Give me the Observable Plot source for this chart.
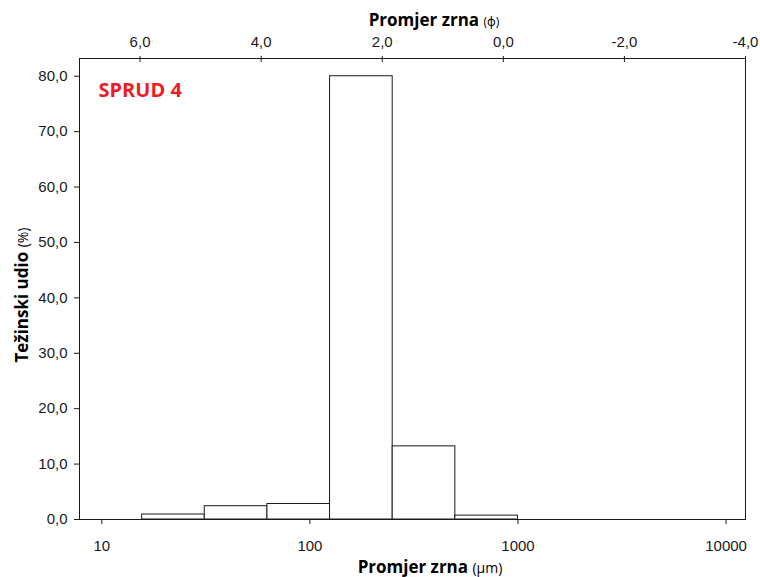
<!DOCTYPE html>
<html><head><meta charset="utf-8">
<script src="https://cdn.jsdelivr.net/npm/d3@7"></script>
<script src="https://cdn.jsdelivr.net/npm/@observablehq/plot@0.6"></script>
<style>
body{margin:0;background:#fff;}
#wrap{position:relative;width:760px;height:577px;}
#wrap svg{position:absolute;left:0;top:0;}
</style></head><body><div id="wrap"></div>
<script>
// ---- data ----
const binStartUm = [15.625, 31.25, 62.5, 125, 250, 500];
const binEndUm   = [31.25, 62.5, 125, 250, 500, 1000];
const weightPct  = [0.9, 2.4, 2.8, 80.0, 13.2, 0.7];
const umTicks  = [10, 100, 1000, 10000];
const phiTicks = [6, 4, 2, 0, -2, -4];
const pctTicks = [0, 10, 20, 30, 40, 50, 60, 70, 80];
const sampleLabel = "SPRUD 4";
const xTitle = "Promjer zrna";
const xUnitBottom = "(µm)";
const xUnitTop = "(ϕ)";
const yTitle = "Težinski udio";
const yUnit = "(%)";

const bins = binStartUm.map((s, i) => ({x1: s, x2: binEndUm[i], y: weightPct[i]}));
const comma1 = d => d.toFixed(1).replace(".", ",");

const W = 760, H = 577, mL = 79, mR = 15, mT = 58, mB = 58;
const tickFont = "'Liberation Sans', Arial, sans-serif";
const titleFont = "'Open Sans', 'Noto Sans', sans-serif";
const ink = "#1a1a1a";

const main = Plot.plot({
  width: W, height: H, marginLeft: mL, marginRight: mR, marginTop: mT, marginBottom: mB,
  style: {fontFamily: tickFont, fontSize: "15px", color: ink, background: "white"},
  x: {type: "log", domain: [7.8125, 12400]},
  y: {domain: [0, 83.2]},
  marks: [
    Plot.rectY(bins, {x1: "x1", x2: "x2", y: "y", fill: "white", stroke: ink, strokeWidth: 1}),
    Plot.frame({stroke: ink}),
    Plot.axisX({ticks: umTicks, tickFormat: d => String(d), tickSize: 5, tickPadding: 16, label: null}),
    Plot.axisY({ticks: pctTicks, tickFormat: comma1, tickSize: 5, tickPadding: 7, label: null}),
    Plot.text([sampleLabel], {frameAnchor: "top-left", dx: 19, dy: 24, textAnchor: "start",
      fontSize: 20, fontWeight: "bold", fontFamily: titleFont, fill: "#ee1c25"})
  ]
});

const topAxis = Plot.plot({
  width: W, height: H, marginLeft: mL, marginRight: mR, marginTop: mT, marginBottom: mB,
  style: {fontFamily: tickFont, fontSize: "15px", color: ink, background: "transparent", pointerEvents: "none"},
  x: {domain: [7, -4]},
  marks: [
    Plot.axisX({anchor: "top", ticks: phiTicks, tickFormat: comma1, tickSize: 6, dy: 3, tickPadding: 8.5, label: null})
  ]
});

const svg = d3.select(main);
const tTop = svg.append("text").attr("x", 434).attr("y", 25.5).attr("text-anchor", "middle")
  .attr("font-family", titleFont).attr("fill", "#000");
tTop.append("tspan").attr("font-size", 17).attr("font-weight", "bold").text(xTitle + " ");
tTop.append("tspan").attr("font-size", 12).attr("font-weight", "normal").text(xUnitTop);

const tBot = svg.append("text").attr("x", 430).attr("y", 573).attr("text-anchor", "middle")
  .attr("font-family", titleFont).attr("fill", "#000");
tBot.append("tspan").attr("font-size", 17).attr("font-weight", "bold").text(xTitle + " ");
tBot.append("tspan").attr("font-size", 14).attr("font-weight", "normal").text(xUnitBottom);

const tY = svg.append("text").attr("transform", "translate(28,295) rotate(-90)").attr("text-anchor", "middle")
  .attr("font-family", titleFont).attr("fill", "#000");
tY.append("tspan").attr("font-size", 17).attr("font-weight", "bold").text(yTitle + " ");
tY.append("tspan").attr("font-size", 14).attr("font-weight", "normal").text(yUnit);

const wrap = document.getElementById("wrap");
wrap.appendChild(main);
wrap.appendChild(topAxis);
</script></body></html>
